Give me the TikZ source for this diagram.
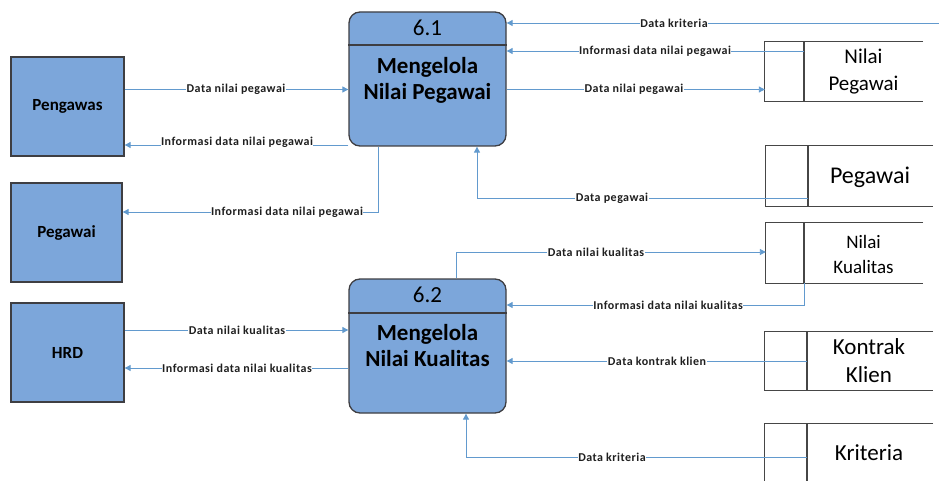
\documentclass[tikz,border=0pt]{standalone}
\usepackage{fontspec}
\setmainfont{Carlito}
\newfontfamily\flowfont[LetterSpace=4]{Carlito}
\usetikzlibrary{arrows.meta,calc}

\definecolor{boxfill}{RGB}{124,166,218}
\definecolor{boxedge}{RGB}{62,62,66}
\definecolor{flowblue}{RGB}{98,154,206}
\definecolor{storeedge}{RGB}{70,70,70}

\tikzset{
  entity/.style={draw=boxedge, line width=1.3pt, fill=boxfill, rectangle,
    inner sep=0pt, font=\fontsize{17}{20}\selectfont\bfseries},
  process/.style={draw=boxedge, line width=1.3pt, fill=boxfill, rectangle,
    rounded corners=11pt, inner sep=0pt},
  procnum/.style={inner sep=0pt, font=\fontsize{23}{26}\selectfont},
  proctitle/.style={inner sep=0pt, align=center, font=\fontsize{23}{26}\selectfont\bfseries},
  storebox/.style={rectangle, inner sep=0pt},
  storeline/.style={draw=storeedge, line width=1.1pt},
  storetext/.style={inner sep=0pt, align=center},
  flowline/.style={draw=flowblue, line width=0.9pt},
  flowarrow/.style={flowline, -{Triangle[length=6pt,width=6pt]}},
  flowlabel/.style={fill=white, inner xsep=0.5pt, inner ysep=1pt,
    font=\flowfont\fontsize{12}{13}\selectfont\bfseries, text=black!88}
}

\begin{document}
\begin{tikzpicture}[x=1pt,y=-1pt]
\useasboundingbox (0,0) rectangle (939,481);

% ---------- external entities ----------
\node[entity, minimum width=113pt, minimum height=99pt] (pengawas) at (67.5,106.5) {Pengawas};
\node[entity, minimum width=111pt, minimum height=99pt] (pegawaiE) at (66.5,232.5) {Pegawai};
\node[entity, minimum width=113pt, minimum height=99pt] (hrd) at (67.5,352.5) {HRD};

% ---------- processes ----------
\node[process, minimum width=157pt, minimum height=134pt] (p1) at (427.5,79) {};
\draw[draw=boxedge, line width=1.3pt] (p1.west |- 0,45) -- (p1.east |- 0,45);
\node[procnum] (p1num) at (427.5,28) {6.1};
\node[proctitle] (p1title) at (427.5,80) {Mengelola\\Nilai Pegawai};

\node[process, minimum width=157pt, minimum height=134pt] (p2) at (427.5,346) {};
\draw[draw=boxedge, line width=1.3pt] (p2.west |- 0,313) -- (p2.east |- 0,313);
\node[procnum] (p2num) at (427.5,295) {6.2};
\node[proctitle] (p2title) at (427.5,346) {Mengelola\\Nilai Kualitas};

% ---------- data stores (open on the right) ----------
% Nilai Pegawai
\node[storebox, minimum width=158pt, minimum height=59pt] (ns1) at (844,71.5) {};
\coordinate (ns1d) at (804,42);
\draw[storeline] (ns1.north east) -- (ns1.north west) -- (ns1.south west) -- (ns1.south east);
\draw[storeline] (ns1d) -- (ns1d |- ns1.south);
\node[storetext, font=\fontsize{21}{27}\selectfont] (ns1t) at (863.5,71.5) {Nilai\\Pegawai};

% Pegawai
\node[storebox, minimum width=167pt, minimum height=60pt] (ns2) at (849.5,176) {};
\coordinate (ns2d) at (808,146);
\draw[storeline] (ns2.north east) -- (ns2.north west) -- (ns2.south west) -- (ns2.south east);
\draw[storeline] (ns2d) -- (ns2d |- ns2.south);
\node[storetext, font=\fontsize{24}{28}\selectfont] (ns2t) at (870,177) {Pegawai};

% Nilai Kualitas
\node[storebox, minimum width=157pt, minimum height=60pt] (ns3) at (844.5,253) {};
\coordinate (ns3d) at (804,223);
\draw[storeline] (ns3.north east) -- (ns3.north west) -- (ns3.south west) -- (ns3.south east);
\draw[storeline] (ns3d) -- (ns3d |- ns3.south);
\node[storetext, font=\fontsize{19}{25}\selectfont] (ns3t) at (863.5,254.5) {Nilai\\Kualitas};

% Kontrak Klien
\node[storebox, minimum width=168pt, minimum height=58pt] (ns4) at (849,361) {};
\coordinate (ns4d) at (807,332);
\draw[storeline] (ns4.north east) -- (ns4.north west) -- (ns4.south west) -- (ns4.south east);
\draw[storeline] (ns4d) -- (ns4d |- ns4.south);
\node[storetext, font=\fontsize{23}{28}\selectfont] (ns4t) at (869,361) {Kontrak\\Klien};

% Kriteria
\node[storebox, minimum width=168pt, minimum height=59pt] (ns5) at (849,453.5) {};
\coordinate (ns5d) at (807,424);
\draw[storeline] (ns5.north east) -- (ns5.north west) -- (ns5.south west) -- (ns5.south east);
\draw[storeline] (ns5d) -- (ns5d |- ns5.south);
\node[storetext, font=\fontsize{23}{28}\selectfont] (ns5t) at (869,453) {Kriteria};

% ---------- data flows around process 6.1 ----------
\coordinate (krifar) at (939,23);
\draw[flowarrow] (krifar) -- (krifar -| p1.east);
\node[flowlabel] at (674,23) {Data kriteria};

\coordinate (ns1out) at (804,51);
\draw[flowarrow] (ns1out) -- (ns1out -| p1.east);
\node[flowlabel] at (655,51) {Informasi data nilai pegawai};

\draw[flowarrow] (p1.east |- 0,89.5) -- (ns1.west |- 0,89.5);
\node[flowlabel] at (634,89.5) {Data nilai pegawai};

\draw[flowarrow] (pengawas.east |- 0,89.5) -- (p1.west |- 0,89.5);
\node[flowlabel] at (236,89.5) {Data nilai pegawai};

\draw[flowarrow] (p1.west |- 0,145) -- (pengawas.east |- 0,145);
\node[flowlabel] at (237,142) {Informasi data nilai pegawai};

\coordinate (p1down) at (378,212);
\draw[flowarrow] (p1.south -| p1down) -- (p1down) -- (p1down -| pegawaiE.east);
\node[flowlabel] at (287,212) {Informasi data nilai pegawai};

\coordinate (pegbend) at (477,198);
\draw[flowarrow] (ns2d |- pegbend) -- (pegbend) -- (pegbend |- p1.south);
\node[flowlabel] at (612,198) {Data pegawai};

% ---------- data flows around process 6.2 ----------
\coordinate (nkbend) at (456,252);
\draw[flowarrow] (p2.north -| nkbend) -- (nkbend) -- (nkbend -| ns3.west);
\node[flowlabel] at (596,252) {Data nilai kualitas};

\coordinate (nkret) at (804,305);
\draw[flowarrow] (ns3d |- ns3.south) -- (nkret) -- (nkret -| p2.east);
\node[flowlabel] at (668,305) {Informasi data nilai kualitas};

\coordinate (kkout) at (807,361);
\draw[flowarrow] (kkout) -- (kkout -| p2.east);
\node[flowlabel] at (657,361) {Data kontrak klien};

\coordinate (krbend) at (466,457);
\draw[flowarrow] (ns5d |- krbend) -- (krbend) -- (krbend |- p2.south);
\node[flowlabel] at (612,457) {Data kriteria};

\draw[flowarrow] (hrd.east |- 0,330) -- (p2.west |- 0,330);
\node[flowlabel] at (237,330) {Data nilai kualitas};

\draw[flowarrow] (p2.west |- 0,368) -- (hrd.east |- 0,368);
\node[flowlabel] at (237,368) {Informasi data nilai kualitas};

\end{tikzpicture}
\end{document}
